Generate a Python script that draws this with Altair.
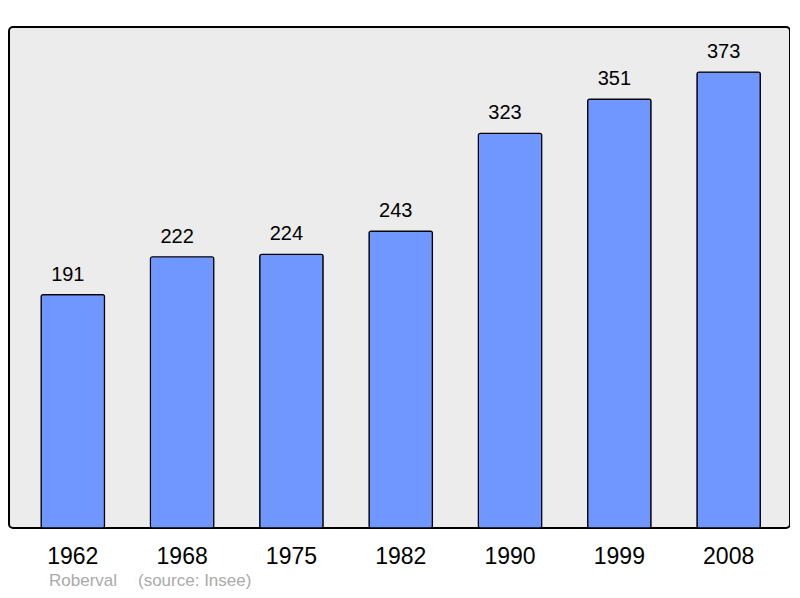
import altair as alt
import pandas as pd

years = ["1962", "1968", "1975", "1982", "1990", "1999", "2008"]
population = [191, 222, 224, 243, 323, 351, 373]
footer_texts = ["Roberval", "(source: Insee)"]
footer_x = [40, 129]

df = pd.DataFrame({"year": years, "pop": population})

FONT = "Liberation Sans"

x = alt.X("year:N", sort=years, title=None,
          scale=alt.Scale(paddingInner=0.42, paddingOuter=0.2825, align=0.52),
          axis=alt.Axis(labelAngle=0, labelFontSize=23, labelColor="#000000",
                        labelFont=FONT, domain=False, ticks=False, labelPadding=17))
y = alt.Y("pop:Q", title=None, scale=alt.Scale(domain=[0, 410], nice=False, zero=True),
          axis=None)

bars = alt.Chart(df).mark_bar(color="#7096ff", stroke="#000000", strokeWidth=1.2,
                              cornerRadius=2).encode(x=x, y=y)
labels = alt.Chart(df).mark_text(baseline="alphabetic", dy=-14, dx=-5, fontSize=20, font=FONT,
                                 color="#000000").encode(x=x, y=y, text="pop:Q")

layers = [bars, labels]
for t, fx in zip(footer_texts, footer_x):
    layers.append(
        alt.Chart(pd.DataFrame({"t": [t]})).mark_text(
            align="left", baseline="alphabetic", fontSize=17, font=FONT,
            color="#aaaaaa").encode(x=alt.value(fx), y=alt.value(559), text="t:N")
    )

chart = alt.layer(*layers).properties(
    width=781, height=501,
    autosize=alt.AutoSizeParams(type="none"),
    padding={"left": 1, "top": 19, "right": 0, "bottom": 62},
    background="#ffffff",
).configure_view(fill="#ececec", stroke="#000000", strokeWidth=2, cornerRadius=4)

chart.save("out.html", embed_options={"renderer": "svg", "actions": False})
